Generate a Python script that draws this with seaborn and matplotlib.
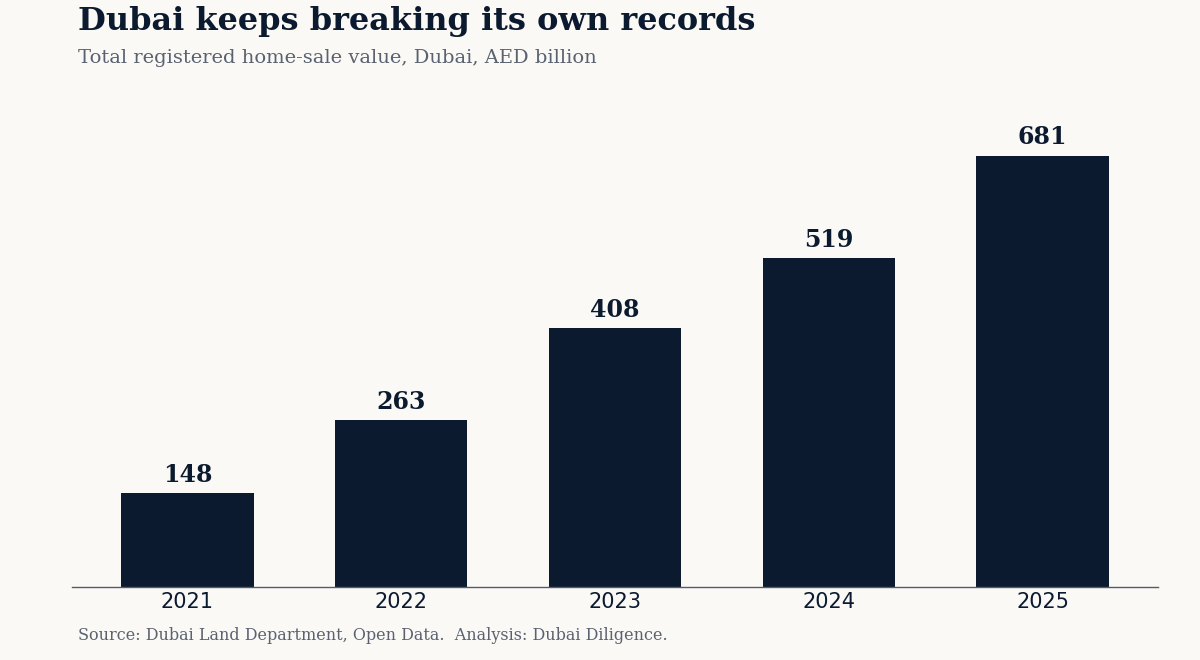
import matplotlib
matplotlib.use("Agg")
import matplotlib.pyplot as plt
import seaborn as sns
import pandas as pd

years = ["2021", "2022", "2023", "2024", "2025"]
values = [148, 263, 408, 519, 681]

bg = "#faf9f6"
navy = "#0b1a2e"
grey = "#5a6270"

sns.set_theme(style="white")
plt.rcParams["font.family"] = ["DejaVu Sans"]

df = pd.DataFrame({"year": years, "value": values})

fig = plt.figure(figsize=(12, 6.6), dpi=100, facecolor=bg)
ax = fig.add_axes([0.06, 0.111, 0.905, 0.75])
ax.set_facecolor(bg)

sns.barplot(data=df, x="year", y="value", color=navy, width=0.62,
            saturation=1, linewidth=0, ax=ax)

# value labels above the bars
for i, v in enumerate(values):
    ax.text(i, v + 10, str(v), ha="center", va="bottom", family="DejaVu Serif",
            fontweight="bold", fontsize=17, color=navy)

ax.set_xlim(-0.54, 4.54)
ax.set_ylim(0, 782)
ax.set_yticks([])
ax.set_xlabel("")
ax.set_ylabel("")
for s in ["top", "right", "left"]:
    ax.spines[s].set_visible(False)
ax.spines["bottom"].set_color("#555b63")
ax.spines["bottom"].set_linewidth(1)
ax.tick_params(axis="x", length=0, labelsize=15, labelcolor=navy, pad=4)

fig.text(0.065, 0.967, "Dubai keeps breaking its own records", family="DejaVu Serif",
         fontweight="bold", fontsize=23, color=navy, ha="left", va="center")
fig.text(0.065, 0.9125, "Total registered home-sale value, Dubai, AED billion",
         family="DejaVu Serif", fontsize=14, color=grey, ha="left", va="center")
fig.text(0.065, 0.0375, "Source: Dubai Land Department, Open Data.  Analysis: Dubai Diligence.",
         family="DejaVu Serif", fontsize=11.5, color=grey, ha="left", va="center")

fig.savefig("out.png", dpi=100, facecolor=bg)
